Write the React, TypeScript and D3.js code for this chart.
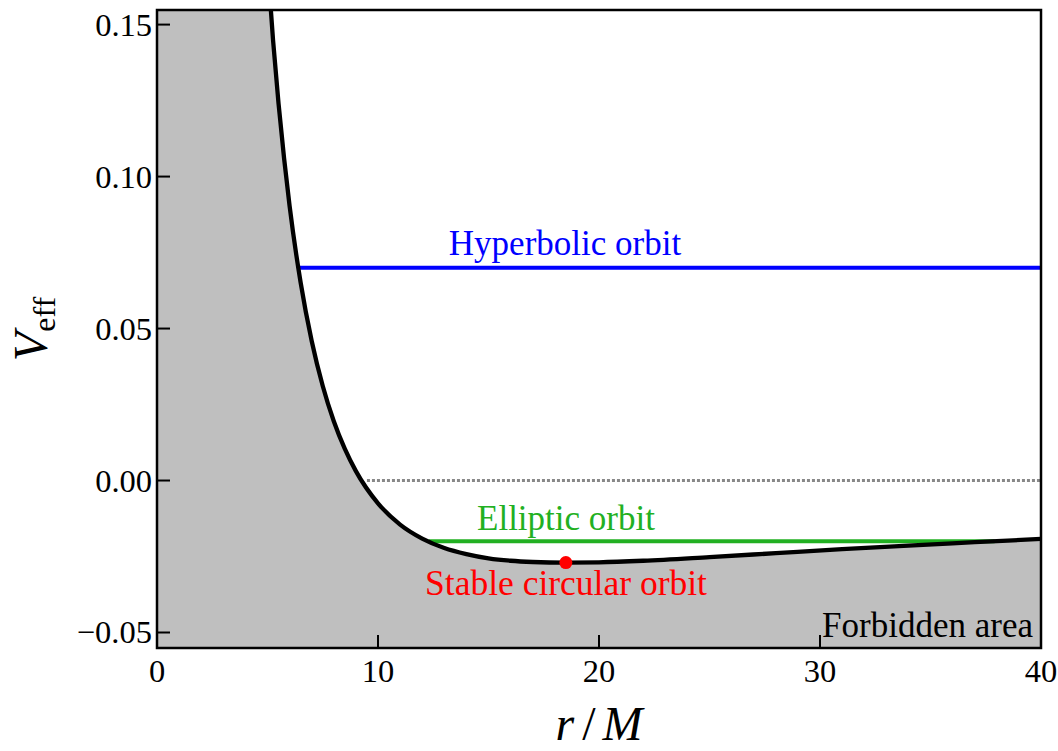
import React from "react";
import * as d3 from "d3";

// Effective potential curve (r/M, V_eff)
const rValues = [4.8, 5.0, 5.25, 5.5, 5.75, 6.0, 6.5, 7.0, 7.5, 8.0, 8.5, 9.0, 10, 11, 12, 13, 14, 15, 16, 17, 18.5, 20, 22, 25, 28, 31, 34, 37, 40];
const vValues = [0.193, 0.170, 0.145, 0.124, 0.106, 0.0903, 0.0651, 0.0459, 0.0311, 0.0195, 0.0104, 0.0031, -0.0075, -0.0145, -0.0191, -0.0222, -0.0242, -0.0256, -0.0264, -0.0268, -0.0270, -0.0269, -0.0264, -0.0252, -0.0239, -0.0226, -0.0214, -0.0203, -0.0192];

// Horizontal orbit levels: [rStart, rEnd, V]
const hyperbolic = [6.45, 40, 0.07];
const elliptic = [12.3, 37.9, -0.02];
const zeroLine = [9.5, 40, 0.0];
const circular = [18.5, -0.027];

const xTicks = [0, 10, 20, 30, 40];
const yTicks = [-0.05, 0.0, 0.05, 0.1, 0.15];
const yTickLabels = ["\u22120.05", "0.00", "0.05", "0.10", "0.15"];

const W = 1058, H = 751;
const L = 157, R = 1041, T = 10, B = 648;

export default function App() {
  const x = d3.scaleLinear().domain([0, 40]).range([L, R]);
  const y = d3.scaleLinear().domain([-0.0551, 0.1548]).range([B, T]);
  const pts = rValues.map((r, i) => [r, vValues[i]] as [number, number]);
  const areaPts: [number, number][] = [[0, 0.2], ...pts];
  const line = d3.line<[number, number]>().x(d => x(d[0])).y(d => y(d[1])).curve(d3.curveMonotoneX);
  const area = d3.area<[number, number]>().x(d => x(d[0])).y0(B).y1(d => y(d[1])).curve(d3.curveMonotoneX);
  const font = "'Liberation Serif', 'DejaVu Serif', serif";
  const st = { fontFamily: font };
  return (
    <svg width={W} height={H} style={{ position: "absolute", left: 0, top: 0, background: "#fff" }}>
      <defs>
        <clipPath id="plot"><rect x={L} y={T} width={R - L} height={B - T} /></clipPath>
      </defs>
      <g clipPath="url(#plot)">
        <path d={area(areaPts) || ""} fill="#bfbfbf" />
        <line x1={x(zeroLine[0])} x2={x(zeroLine[1])} y1={y(zeroLine[2])} y2={y(zeroLine[2])} stroke="#888" strokeWidth={3} strokeDasharray="3,2" />
        <line x1={x(hyperbolic[0])} x2={x(hyperbolic[1])} y1={y(hyperbolic[2])} y2={y(hyperbolic[2])} stroke="#0000ff" strokeWidth={4} />
        <line x1={x(elliptic[0])} x2={x(elliptic[1])} y1={y(elliptic[2])} y2={y(elliptic[2])} stroke="#22b022" strokeWidth={4} />
        <path d={line(pts) || ""} fill="none" stroke="#000" strokeWidth={4.3} />
        <circle cx={x(circular[0])} cy={y(circular[1])} r={6.5} fill="#ff0000" />
      </g>
      {/* frame */}
      <rect x={L} y={T} width={R - L} height={B - T} fill="none" stroke="#000" strokeWidth={2.5} />
      {/* ticks */}
      {xTicks.map(t => (
        <g key={"x" + t}>
          <line x1={x(t)} x2={x(t)} y1={B} y2={B - 13} stroke="#000" strokeWidth={2} />
          <text x={x(t)} y={682} textAnchor="middle" style={st} fontSize={32.5}>{t}</text>
        </g>
      ))}
      {yTicks.map((t, i) => (
        <g key={"y" + t}>
          <line x1={L} x2={L + 13} y1={y(t)} y2={y(t)} stroke="#000" strokeWidth={2} />
          <text x={152} y={y(t) + 11} textAnchor="end" style={st} fontSize={32.5}>{yTickLabels[i]}</text>
        </g>
      ))}
      {/* annotations */}
      <text x={565} y={255} textAnchor="middle" style={st} fontSize={35} fill="#0000ff">Hyperbolic orbit</text>
      <text x={566} y={530} textAnchor="middle" style={st} fontSize={35} fill="#22b022">Elliptic orbit</text>
      <text x={566} y={595} textAnchor="middle" style={st} fontSize={35.5} fill="#ff0000">Stable circular orbit</text>
      <text x={1033} y={637} textAnchor="end" style={st} fontSize={35} fill="#000">Forbidden area</text>
      {/* axis titles */}
      <text x={599} y={740} textAnchor="middle" style={st} fontSize={48} fontStyle="italic">r<tspan fontStyle="normal" dx={8}>/</tspan><tspan dx={7}>M</tspan></text>
      <text transform={`translate(47, ${(T + B) / 2}) rotate(-90)`} textAnchor="middle" style={st} fontSize={48}>
        <tspan fontStyle="italic">V</tspan><tspan fontSize={32} dy={8}>eff</tspan>
      </text>
    </svg>
  );
}
